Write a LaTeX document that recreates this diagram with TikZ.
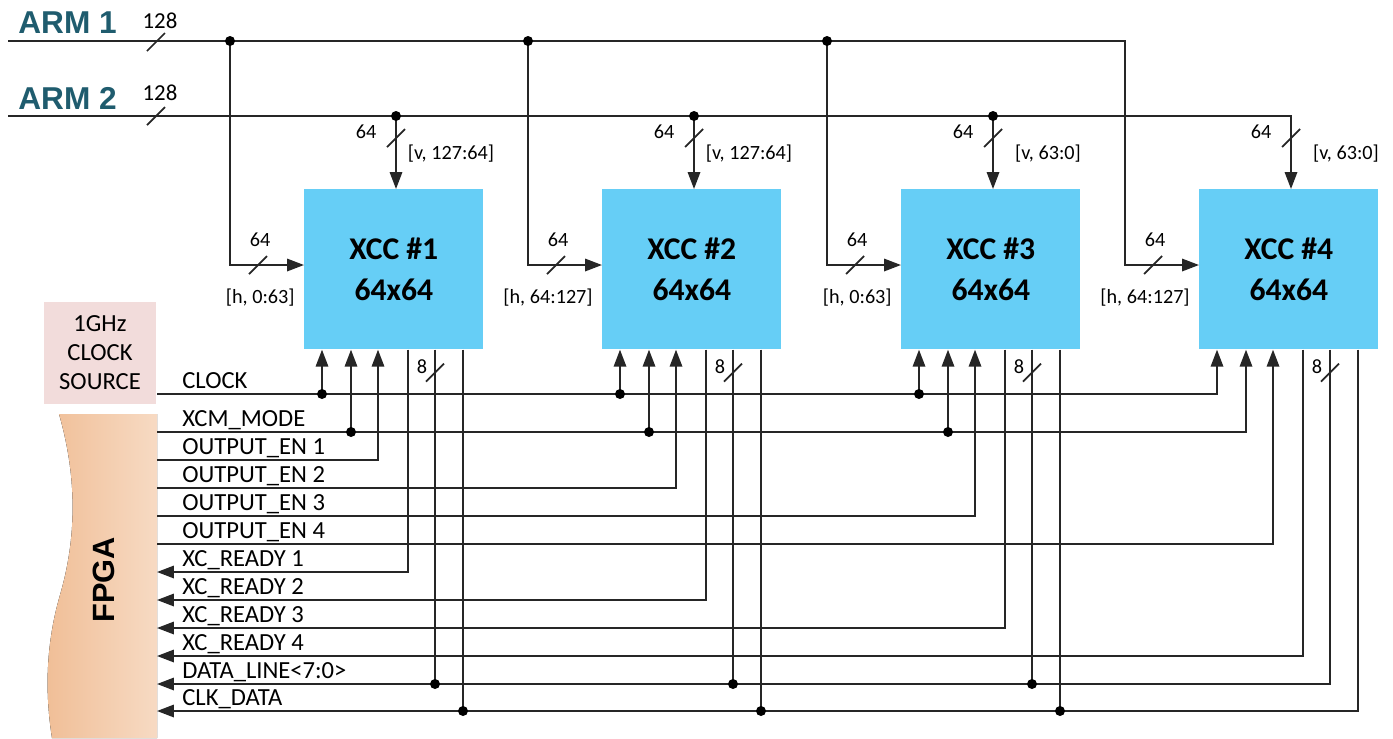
\documentclass[tikz,border=0pt]{standalone}
\usepackage{fontspec}
\setmainfont{Carlito}
\newfontfamily\armfont{Liberation Sans}
\usetikzlibrary{arrows.meta, calc, positioning}
\definecolor{xccblue}{RGB}{102,206,246}
\definecolor{armteal}{RGB}{31,92,110}
\definecolor{clkpink}{RGB}{242,220,219}
\definecolor{fpgadark}{RGB}{240,190,150}
\definecolor{fpgalight}{RGB}{247,218,195}
% bus width mark
\newcommand\busmark[1]{\draw[sig] ($(#1)+(-9,9)$) -- ($(#1)+(9,-9)$);}

\begin{document}
\begin{tikzpicture}[
  x=0.02cm, y=-0.02cm,
  every node/.style={font=\fontsize{14}{16.5}\selectfont, inner sep=0pt},
  sig/.style={line width=1pt, black!85},
  sigarr/.style={sig, -{Triangle[length=3.4mm,width=2.5mm]}},
  xcc/.style={fill=xccblue, minimum width=3.58cm, minimum height=3.2cm, anchor=north west,
    align=center, font=\fontsize{18}{23}\selectfont\bfseries},
  small/.style={font=\fontsize{11.5}{13}\selectfont},
  armlbl/.style={anchor=base west, text=armteal, font=\armfont\fontsize{18}{20}\selectfont\bfseries}
]
\useasboundingbox (0,0) rectangle (1393,738);
% FPGA and clock source
\fill[left color=fpgadark, right color=fpgalight] (157,414) -- (59,414)
  .. controls (78,480) and (76,540) .. (60,595)
  .. controls (44,650) and (46,700) .. (52,738) -- (157,738) -- cycle;
\node[rotate=90, font=\armfont\fontsize{17.5}{20}\selectfont\bfseries] (fpga) at (104,580) {FPGA};
\node[fill=clkpink, minimum width=2.24cm, minimum height=2.04cm, align=center] (clksrc) at (100,353) {1GHz\\CLOCK\\SOURCE};
% XCC blocks
\foreach \i/\bx in {1/304, 2/602, 3/901, 4/1199} {
  \node[xcc] (xcc\i) at (\bx,189) {XCC \#\i\\64x64};
  \coordinate (ckin\i) at ($(xcc\i.south west)+(18,0)$);
  \coordinate (mdin\i) at ($(xcc\i.south west)+(47,0)$);
  \coordinate (oein\i) at ($(xcc\i.south west)+(74,0)$);
  \coordinate (rdout\i) at ($(xcc\i.south west)+(104,0)$);
  \coordinate (dtout\i) at ($(xcc\i.south west)+(131,0)$);
  \coordinate (cdout\i) at ($(xcc\i.south west)+(159,0)$);
  \coordinate (hin\i) at ($(xcc\i.north west)+(0,76)$);
  \coordinate (hdrop\i) at ($(hin\i)+(-74,0)$);
  \coordinate (vin\i) at ($(xcc\i.north west)+(92,0)$);
}
% ARM buses
\coordinate (arm1) at (8,41);
\coordinate (arm2) at (8,116);
\node[armlbl] (arm1lbl) at (18,33) {ARM 1};
\node[armlbl] (arm2lbl) at (18,109) {ARM 2};
\node[font=\fontsize{13}{15}\selectfont] at (160,21) {128};
\node[font=\fontsize{13}{15}\selectfont] at (160,93) {128};
\draw[sigarr] (arm1) -| (hdrop4) -- (hin4);
\draw[sigarr] (arm2) -| (vin4);
\busmark{156,42}
\busmark{156,116}
\foreach \i in {1,2,3} {
  \draw[sigarr] (hdrop\i |- arm1) -- (hdrop\i) -- (hin\i);
  \fill (hdrop\i |- arm1) circle (1mm);
  \draw[sigarr] (vin\i |- arm2) -- (vin\i);
  \fill (vin\i |- arm2) circle (1mm);
}
% input labels
\foreach \i/\hr/\vr in {1/{0:63}/{127:64}, 2/{64:127}/{127:64}, 3/{0:63}/{63:0}, 4/{64:127}/{63:0}} {
  \node[small] at ($(vin\i)+(-30,-57)$) {64};
  \busmark{$(vin\i)+(0,-51)$}
  \node[small] at ($(vin\i)+(55,-35)$) {[v, \vr]};
  \node[small] at ($(hdrop\i)+(30,-25)$) {64};
  \busmark{$(hdrop\i)+(28,0)$}
  \node[small, anchor=east] at ($(xcc\i.north west)+(-9,109)$) {[h, \hr]};
  \node[small] at ($(dtout\i)+(-13,17)$) {8};
  \busmark{$(dtout\i)+(0,23)$}
}
% FPGA signal rows
\foreach \n/\y/\txt in {clk/394/CLOCK, mode/432/XCM\_MODE, oe1/460/OUTPUT\_EN 1, oe2/488/OUTPUT\_EN 2,
  oe3/516/OUTPUT\_EN 3, oe4/544/OUTPUT\_EN 4, rdy1/572/XC\_READY 1, rdy2/600/XC\_READY 2,
  rdy3/628/XC\_READY 3, rdy4/656/XC\_READY 4, data/684/DATA\_LINE<7:0>, cd/711/CLK\_DATA} {
  \coordinate (row\n) at (157,\y);
  \node[anchor=base west] at ($(row\n)+(25,-6)$) {\txt};
}
\draw[sigarr] (rowclk) -| (ckin4);
\draw[sigarr] (rowmode) -| (mdin4);
\draw[sigarr] (dtout4) |- (rowdata);
\draw[sigarr] (cdout4) |- (rowcd);
\foreach \i in {1,2,3} {
  \draw[sigarr] (ckin\i |- rowclk) -- (ckin\i);
  \fill (ckin\i |- rowclk) circle (1mm);
  \draw[sigarr] (mdin\i |- rowmode) -- (mdin\i);
  \fill (mdin\i |- rowmode) circle (1mm);
  \draw[sig] (dtout\i) -- (dtout\i |- rowdata);
  \fill (dtout\i |- rowdata) circle (1mm);
  \draw[sig] (cdout\i) -- (cdout\i |- rowcd);
  \fill (cdout\i |- rowcd) circle (1mm);
}
\foreach \i in {1,2,3,4} {
  \draw[sigarr] (rowoe\i) -| (oein\i);
  \draw[sigarr] (rdout\i) |- (rowrdy\i);
}
\end{tikzpicture}
\end{document}
